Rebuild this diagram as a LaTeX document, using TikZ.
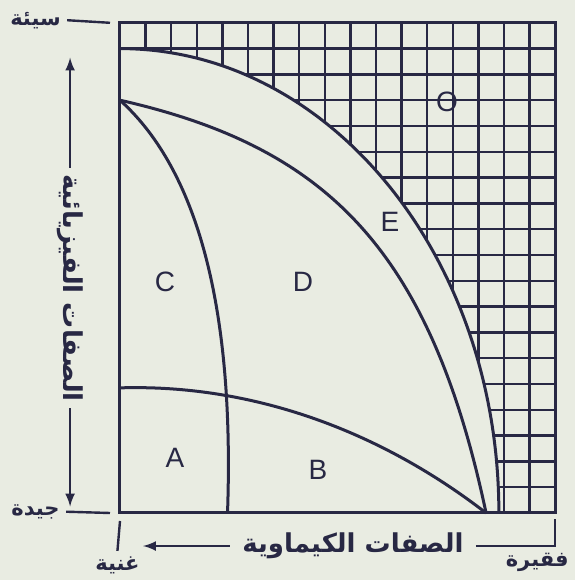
\documentclass[tikz,border=0pt]{standalone}
\usepackage{fontspec}
\setmainfont{Liberation Sans}
\newfontfamily\arabicfont[Script=Arabic]{DejaVu Sans}
\TeXXeTstate=1
\usepackage{tikz}
\usepackage{xcolor}
\definecolor{inkblue}{RGB}{40,40,68}
\definecolor{paper}{RGB}{233,236,226}

\begin{document}
\begin{tikzpicture}[x=12.8pt, y=12.9pt,
		>=latex,   % Pfeilspitzen
		font=\fontsize{14}{16}\selectfont,
		line/.style={inkblue, line width=1.5pt},
		gridline/.style={inkblue, line width=1.15pt},
		axis/.style={inkblue, line width=1.2pt},
		region/.style={inkblue, inner sep=0pt},
		arab/.style={inkblue, font=\arabicfont\bfseries\fontsize{13}{15}\selectfont, inner sep=3pt},
		endlabel/.style={inkblue, font=\arabicfont\bfseries\fontsize{10.5}{12}\selectfont, inner sep=3pt}]
		% Hintergrund und Bildgroesse
		\fill[paper] (-4.6875,-2.597) rectangle (17.773,19.884);
		\useasboundingbox (-4.6875,-2.597) rectangle (17.773,19.884);
		% Eckpunkte
		\coordinate (o) at (0,0);
		\coordinate (tl) at (0,19);
		\coordinate (br) at (17,0);
		\coordinate (ptop) at (-1.95,17.65);
		\coordinate (pbot) at (-1.95,0.25);
		\coordinate (cleft) at (0.9,-1.28);
		\coordinate (cright) at (17,-1.28);
		% Gitter ausserhalb der grossen Ellipse
		\begin{scope}
			\clip (0,18) arc[start angle=90, end angle=0, x radius=14.8, y radius=18] -- (17,0) -- (17,19) -- (0,19) -- cycle;
			\draw[gridline] [xstep=1, ystep=1] (0,0) grid (17,19);
		\end{scope}
		% Rahmen
		\draw[line] (0,0) rectangle (17,19);
		% Kurven
		\draw[line] (0,18) arc[start angle=90, end angle=0, x radius=14.8, y radius=18];
		\draw[line] (0,16) .. controls (8,14.2) and (12.1,10.3) .. (14.3,0);
		\draw[line] (0,16) .. controls (2.8,13.5) and (4.5,8.5) .. (4.2,0);
		\draw[line] (0,4.85) .. controls (5,5) and (10,3.3) .. (14.3,0);
		% Bereiche
		\node[region] (A) at (2.15,2.13) {A};
		\node[region] (B) at (7.73,1.67) {B};
		\node[region] (C) at (1.76,8.95) {C};
		\node[region] (D) at (7.15,8.95) {D};
		\node[region] (E) at (10.55,11.28) {E};
		\node[region] (O) at (12.77,15.93) {O};
		% Achsen beschriften
		\node[arab, rotate=-90] (phys) at (-1.95,8.72) {\beginR الصفات الفيزيائية\endR};
		\draw[->,axis] (phys.west) -- (ptop);
		\draw[->,axis] (phys.east) -- (pbot);
		\node[arab, inner sep=6pt] (chem) at (9.1,-1.28) {\beginR الصفات الكيماوية\endR};
		\draw[->,axis] (chem.west) -- (cleft);
		\draw[axis] (chem.east) -- (cright) -- ([yshift=-3pt]br);
		% Endpunkte
		\node[endlabel] (bad) at (-3.3,19.1) {\beginR سيئة\endR};
		\node[endlabel] (good) at (-3.3,0.05) {\beginR جيدة\endR};
		\node[endlabel] (rich) at (-0.1,-2.05) {\beginR غنية\endR};
		\node[endlabel] (poor) at (16.3,-1.9) {\beginR فقيرة\endR};
		\draw[axis] (bad.east) -- ([xshift=-5pt]tl);
		\draw[axis] (good.east) -- ([xshift=-5pt]o);
		\draw[axis] ([yshift=-4pt]o) -- (rich.north);
\end{tikzpicture}
\end{document}
